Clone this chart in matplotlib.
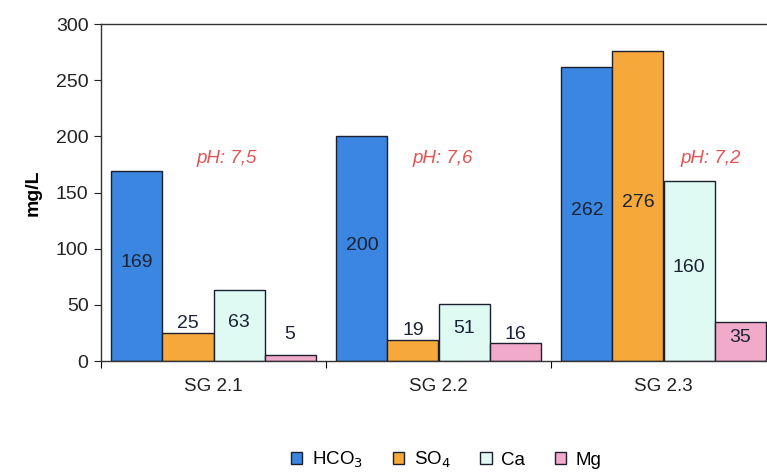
import numpy as np
import matplotlib
matplotlib.use("Agg")
import matplotlib.pyplot as plt
from matplotlib.patches import Patch

plt.rcParams['font.family'] = ['Liberation Sans', 'DejaVu Sans']

#------- donnees -------
sites = ["SG 2.1", "SG 2.2", "SG 2.3"]
ions = ["HCO$_3$", "SO$_4$", "Ca", "Mg"]
hco3 = [169, 200, 262]
so4 = [25, 19, 276]
ca = [63, 51, 160]
mg = [5, 16, 35]
ph = ["pH: 7,5", "pH: 7,6", "pH: 7,2"]
#-----------------------

series = [hco3, so4, ca, mg]
colors = ["#3b86e0", "#f6a93a", "#dff9f3", "#f2aacb"]
edge = "#1c1f2e"

fig = plt.figure(figsize=(7.67, 4.73), dpi=100)
ax = fig.add_axes([101/767, 1-361/473, 675/767, 337/473])

x = np.arange(len(sites))
w = 0.227
offsets = (np.arange(4) - 1.5) * w

for k, vals in enumerate(series):
    ax.bar(x + offsets[k], vals, width=w, color=colors[k], edgecolor=edge,
           linewidth=1.0, zorder=2)
    for i, v in enumerate(vals):
        if v >= 30:
            y = v/2 + 3
        else:
            y = max(v + 8, 24)
        ax.text(x[i] + offsets[k], y, str(v), ha="center", va="center",
                fontsize=14, color="#1a2233", zorder=3)

# pH de chaque site
ph_dx = [0.06, 0.02, 0.21]
for i, t in enumerate(ph):
    ax.text(x[i] + ph_dx[i], 180, t, ha="center", va="center", fontsize=13.5,
            style="italic", color="#e05555")

ax.set_xlim(-0.5, 2.5)
ax.set_ylim(0, 300)
ax.set_yticks(np.arange(0, 301, 50))
ax.tick_params(axis="y", labelsize=14, length=5, direction="out", pad=4,
               colors="#222222")
ax.set_xticks([-0.5, 0.5, 1.5, 2.5])
ax.set_xticklabels([])
ax.tick_params(axis="x", which="major", length=5, direction="out")
ax.set_xticks(x, minor=True)
ax.set_xticklabels(sites, minor=True)
ax.tick_params(axis="x", which="minor", length=0, labelsize=13.5, pad=12,
               colors="#222222")

ax.set_ylabel("mg/L", fontsize=14, fontweight="bold", labelpad=10)
for s in ["left", "bottom", "top"]:
    ax.spines[s].set_color("#333333")
    ax.spines[s].set_linewidth(1.0)
ax.spines["right"].set_visible(False)

handles = [Patch(facecolor=c, edgecolor=edge, linewidth=1.0) for c in colors]
fig.legend(handles, ions, loc="center", bbox_to_anchor=(0.582, 0.028),
           ncol=4, frameon=False, fontsize=13.5, handlelength=0.6,
           handleheight=0.6, handletextpad=0.5, columnspacing=1.6)

fig.savefig("out.png", dpi=100)
